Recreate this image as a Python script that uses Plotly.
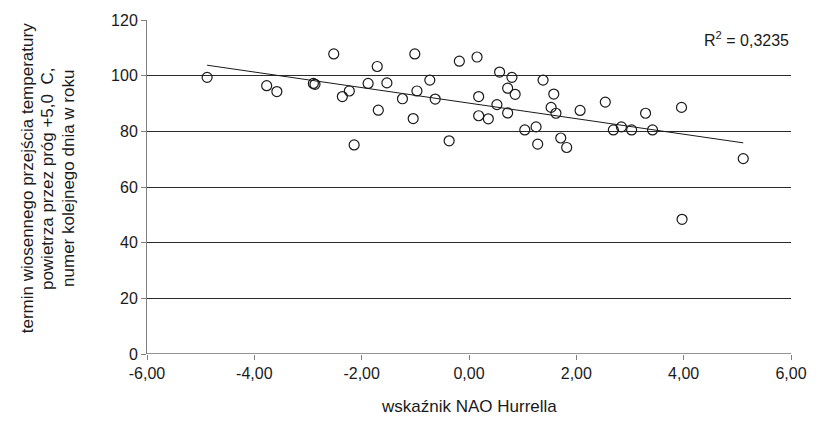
import numpy as np
import plotly.graph_objects as go

# NAO Hurrell index (x) and day-of-year of spring crossing +5.0 C (y)
nao = [-4.88, -3.77, -3.58, -2.90, -2.87, -2.52, -2.36, -2.23, -2.14,
       -1.88, -1.71, -1.69, -1.53, -1.24, -1.04, -1.01, -0.97, -0.73,
       -0.63, -0.37, -0.18, 0.15, 0.18, 0.18, 0.36, 0.52, 0.57, 0.72,
       0.72, 0.80, 0.86, 1.04, 1.25, 1.28, 1.38, 1.53, 1.58, 1.62,
       1.71, 1.82, 2.07, 2.54, 2.69, 2.84, 3.03, 3.29, 3.42, 3.96,
       3.97, 5.11]
day = [99.4, 96.4, 94.3, 97.2, 96.9, 107.8, 92.5, 94.5, 75.1,
       97.2, 103.3, 87.6, 97.4, 91.7, 84.6, 107.8, 94.5, 98.4,
       91.6, 76.6, 105.2, 106.7, 92.5, 85.6, 84.5, 89.6, 101.3, 95.5,
       86.6, 99.4, 93.3, 80.5, 81.6, 75.4, 98.4, 88.6, 93.4, 86.5,
       77.6, 74.2, 87.5, 90.5, 80.5, 81.6, 80.5, 86.5, 80.5, 88.6,
       48.4, 70.2]

x_tickvals = [-6, -4, -2, 0, 2, 4, 6]
x_ticktext = ["-6,00", "-4,00", "-2,00", "0,00", "2,00", "4,00", "6,00"]
y_tickvals = [0, 20, 40, 60, 80, 100, 120]

r2_label = "R<sup>2</sup> = 0,3235"
y_title_lines = ["termin wiosennego przejścia temperatury",
                 "powietrza przez próg +5,0  C,",
                 "numer kolejnego dnia w roku"]
x_title = "wskaźnik NAO Hurrella"

# linear trend from data
a, b = np.polyfit(nao, day, 1)
tx = np.array([min(nao), max(nao)])
ty = a * tx + b

font = "Liberation Sans, Arial, sans-serif"

fig = go.Figure()
fig.add_trace(go.Scatter(
    x=tx, y=ty, mode="lines",
    line=dict(color="#1a1a1a", width=1), hoverinfo="skip", showlegend=False))
fig.add_trace(go.Scatter(
    x=nao, y=day, mode="markers",
    marker=dict(symbol="circle-open", size=10, color="#1a1a1a", line=dict(width=1.2)),
    showlegend=False))

annotations = [
    dict(text=r2_label, x=1, y=0.944, xref="paper", yref="paper",
         xanchor="right", yanchor="middle", showarrow=False,
         font=dict(size=16)),
    dict(text=x_title, x=0.5, y=-0.156, xref="paper", yref="paper",
         xanchor="center", yanchor="middle", showarrow=False,
         font=dict(size=17)),
]
for line, xp in zip(y_title_lines, [-0.1864, -0.1541, -0.1217]):
    annotations.append(dict(text=line, x=xp, y=0.526, xref="paper", yref="paper",
                            xanchor="center", yanchor="middle", showarrow=False,
                            textangle=-90, font=dict(size=17)))

fig.update_layout(
    width=819, height=426,
    margin=dict(l=147, r=23, t=14, b=72),
    paper_bgcolor="white", plot_bgcolor="white",
    font=dict(family=font, size=16, color="#1a1a1a"),
    xaxis=dict(range=[-6, 6], tickvals=x_tickvals, ticktext=x_ticktext,
               showgrid=False, zeroline=False, showline=False,
               ticks="outside", ticklen=5, tickcolor="#808080",
               tickfont=dict(size=16), fixedrange=True),
    yaxis=dict(range=[0, 120], tickvals=y_tickvals,
               showgrid=True, gridcolor="#2a2a2a", gridwidth=1,
               zeroline=False, showline=True, linecolor="#808080", linewidth=1,
               ticks="outside", ticklen=5, tickcolor="#808080",
               tickfont=dict(size=16), fixedrange=True),
    annotations=annotations,
)
fig.add_shape(type="line", xref="paper", yref="y", x0=0, x1=1, y0=0, y1=0,
              line=dict(color="#2a2a2a", width=1))

fig.write_html("out.html")
